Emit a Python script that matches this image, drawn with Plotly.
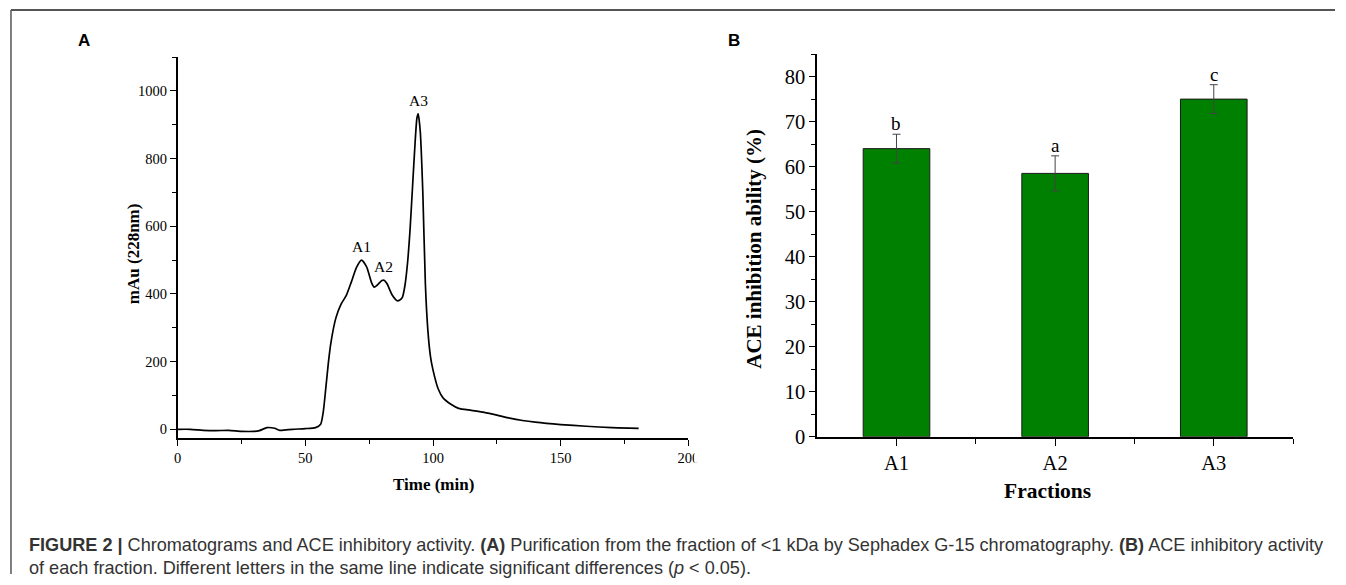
import plotly.graph_objects as go

# ---------------- data ----------------
# Panel A: chromatogram (Sephadex G-15)
time_min = [0, 5, 10, 15, 20, 25, 30, 32, 35, 38, 40, 45, 50, 54, 56, 57, 58, 59, 60,
            62, 64, 66, 68, 70, 72, 74, 76, 77, 78, 80, 81, 82, 84, 86, 87, 88, 89, 90,
            91, 92, 93, 93.7, 94.2, 95, 96, 97, 98, 99, 100, 102, 104, 107, 110, 115, 120,
            125, 130, 135, 140, 150, 160, 170, 180.5]
mau = [0, 0, -3, -4, -3, -6, -6, -4, 5, 3, -3, 0, 2, 5, 15, 50, 120, 195, 255,
       330, 370, 395, 435, 478, 500, 480, 432, 420, 425, 440, 440, 430, 397, 380, 382, 390, 425, 490,
       590, 720, 850, 920, 932, 880, 700, 430, 290, 215, 175, 120, 92, 74, 62, 56, 50,
       42, 33, 26, 21, 14, 9, 5, 3]
peak_labels = ["A1", "A2", "A3"]
peak_time = [72, 80.5, 94.2]
peak_val = [500, 440, 932]

# Panel B: ACE inhibition
fractions = ["A1", "A2", "A3"]
ace = [64.0, 58.5, 75.0]
ace_err = [3.2, 3.9, 3.2]
sig_letters = ["b", "a", "c"]

W, H = 1346, 585
# reference coordinates were measured on a slightly different grid
RX, RY = 1334.0, 573.0
def px(x):
    return x / RX
def py(y):
    return 1 - y / RY

serif = "Liberation Serif"
sans = "Liberation Sans"

fig = go.Figure()

fig.add_trace(go.Scatter(
    x=time_min, y=mau, mode="lines",
    line=dict(color="black", width=1.7, shape="spline", smoothing=0.6),
    xaxis="x", yaxis="y", showlegend=False, hoverinfo="skip"))

xpos = [1, 2, 3]
fig.add_trace(go.Bar(
    x=xpos, y=ace, width=0.42,
    marker=dict(color="#008000", line=dict(color="#1a1a1a", width=1)),
    error_y=dict(type="data", array=ace_err, visible=True, color="#444444",
                 thickness=1, width=4),
    xaxis="x2", yaxis="y2", showlegend=False, hoverinfo="skip"))

tickfontA = dict(family=serif, size=14.5, color="black")
tickfontB = dict(family=serif, size=20.5, color="black")

fig.update_layout(
    width=W, height=H,
    margin=dict(l=0, r=0, t=0, b=0),
    paper_bgcolor="white", plot_bgcolor="white",
    xaxis=dict(domain=[px(174), px(686)], anchor="y", range=[0, 200],
               tickvals=[0, 50, 100, 150, 200], ticks="outside", ticklen=6,
               tickwidth=1.2, tickcolor="black",
               minor=dict(dtick=25, tick0=0, ticks="outside", ticklen=4,
                          tickcolor="black", showgrid=False),
               showline=True, linecolor="black", linewidth=1.5,
               showgrid=False, zeroline=False, tickfont=tickfontA),
    yaxis=dict(domain=[py(437), py(57)], anchor="x", range=[-25, 1100],
               tickvals=[0, 200, 400, 600, 800, 1000], ticks="outside", ticklen=6,
               tickwidth=1.2, tickcolor="black",
               minor=dict(dtick=100, tick0=0, ticks="outside", ticklen=4,
                          tickcolor="black", showgrid=False),
               showline=True, linecolor="black", linewidth=1.5,
               showgrid=False, zeroline=False, tickfont=tickfontA),
    xaxis2=dict(domain=[px(815), px(1292)], anchor="y2", range=[0.5, 3.5],
                tickvals=xpos, ticktext=fractions, ticks="outside", ticklen=7,
                tickwidth=1.2, tickcolor="black",
                minor=dict(tickvals=[1.5, 2.5, 3.5], ticks="outside", ticklen=5,
                           tickcolor="black", showgrid=False),
                showline=True, linecolor="black", linewidth=1.5,
                showgrid=False, zeroline=False, tickfont=tickfontB),
    yaxis2=dict(domain=[py(436), py(54)], anchor="x2", range=[0, 85],
                dtick=10, ticks="outside", ticklen=6, tickwidth=1.2, tickcolor="black",
                minor=dict(dtick=5, tick0=0, ticks="outside", ticklen=4,
                           tickcolor="black", showgrid=False),
                showline=True, linecolor="black", linewidth=1.5,
                showgrid=False, zeroline=False, tickfont=tickfontB),
)

def pann(text, x, y, size, family, angle=0, xanchor="center", color="black"):
    return dict(text=text, x=px(x), y=py(y), xref="paper", yref="paper",
                xanchor=xanchor, yanchor="middle", showarrow=False, textangle=angle,
                font=dict(family=family, size=size, color=color))

ann = []
ann.append(pann("<b>A</b>", 80, 40, 17, sans))
ann.append(pann("<b>B</b>", 732, 40, 17, sans))
ann.append(pann("<b>mAu (228nm)</b>", 130, 253, 17, serif, angle=-90))
ann.append(pann("<b>Time (min)</b>", 430, 484, 17, serif))
ann.append(pann("<b>ACE inhibition ability (%)</b>", 752, 248, 21, serif, angle=-90))
ann.append(pann("<b>Fractions</b>", 1046, 490, 21.5, serif))
# peak labels
for lab, t, v in zip(peak_labels, peak_time, peak_val):
    ann.append(dict(text=lab, x=t, y=v, xref="x", yref="y", xanchor="center",
                    yanchor="bottom", yshift=3, showarrow=False,
                    font=dict(family=serif, size=15.5, color="black")))
# significance letters
for xp, v, e, l in zip(xpos, ace, ace_err, sig_letters):
    ann.append(dict(text=l, x=xp, y=v + e, xref="x2", yref="y2", xanchor="center",
                    yanchor="bottom", yshift=-2, showarrow=False,
                    font=dict(family=serif, size=19, color="black")))
# caption
cap_size = 18.1
ann.append(pann("<b>FIGURE 2 |</b> Chromatograms and ACE inhibitory activity. <b>(A)</b> Purification "
                "from the fraction of &lt;1 kDa by Sephadex G-15 chromatography. <b>(B)</b> ACE inhibitory activity",
                23, 544, cap_size, sans, xanchor="left", color="#333333"))
ann.append(pann("of each fraction. Different letters in the same line indicate significant differences "
                "(<i>p</i> &lt; 0.05).",
                23, 567, cap_size, sans, xanchor="left", color="#333333"))
fig.update_layout(annotations=ann)

shapes = [
    # figure frame (top and left edges)
    dict(type="line", xref="paper", yref="paper", x0=px(7), x1=1, y0=py(10), y1=py(10),
         line=dict(color="#555555", width=2)),
    dict(type="line", xref="paper", yref="paper", x0=px(7), x1=px(7), y0=py(10), y1=0,
         line=dict(color="#555555", width=1.5)),
    # clipping of the last x tick label of panel A
    dict(type="rect", xref="paper", yref="paper", x0=px(692), x1=px(712), y0=py(462), y1=py(444),
         fillcolor="white", line=dict(width=0), layer="above"),
]
fig.update_layout(shapes=shapes)

fig.write_html(
    "out.html",
    config={"displayModeBar": False},
    post_script=("document.documentElement.style.margin='0';"
                 "document.documentElement.style.overflow='hidden';"
                 "document.body.style.margin='0';"
                 "document.body.style.overflow='hidden';"),
)
